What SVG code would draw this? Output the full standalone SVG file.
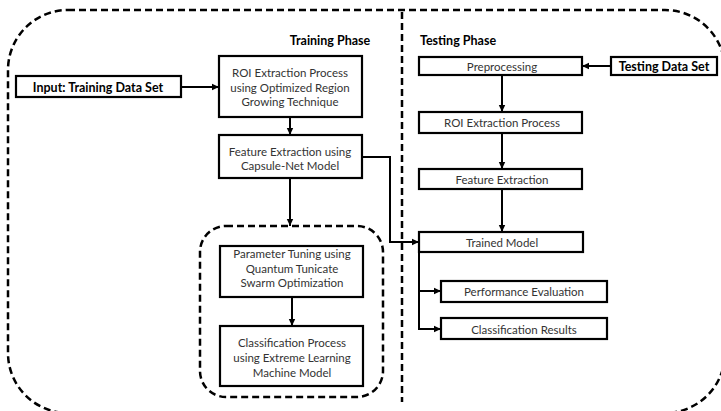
<svg xmlns="http://www.w3.org/2000/svg" width="721" height="411" viewBox="0 0 721 411">
<style>
.box{fill:#fff;stroke:#000;stroke-width:2.2}
.t{font-family:Lato,"Liberation Sans",sans-serif;font-size:11.5px;fill:#333;text-anchor:middle;dominant-baseline:central}
.b{font-family:Lato,"Liberation Sans",sans-serif;font-size:12.5px;font-weight:bold;fill:#000;text-anchor:middle;dominant-baseline:central}
.dash{fill:none;stroke:#000;stroke-width:2.5;stroke-dasharray:7 4}
.c{fill:none;stroke:#000;stroke-width:2}
</style>
<defs>
<marker id="ah" markerUnits="userSpaceOnUse" markerWidth="8" markerHeight="8" refX="7" refY="4" orient="auto">
<path d="M0,0.8 L7,4 L0,7.2 z" fill="#000"/>
</marker>
</defs>
<rect class="dash" x="8" y="10" width="717" height="403" rx="60"/>
<line class="dash" x1="402" y1="12" x2="402" y2="402"/>
<rect class="dash" x="200" y="226" width="183" height="171" rx="26"/>
<text class="b" x="330" y="40">Training Phase</text>
<text class="b" x="458" y="40">Testing Phase</text>
<g id="connectors">
<line class="c" x1="181" y1="87" x2="219" y2="87" marker-end="url(#ah)"/>
<line class="c" x1="290" y1="117" x2="290" y2="135" marker-end="url(#ah)"/>
<line class="c" x1="290" y1="178" x2="290" y2="226" marker-end="url(#ah)"/>
<polyline class="c" points="362,157 390,157 390,242 419,242" marker-end="url(#ah)"/>
<line class="c" x1="292" y1="297" x2="292" y2="326" marker-end="url(#ah)"/>
<line class="c" x1="611" y1="66" x2="582" y2="66" marker-end="url(#ah)"/>
<line class="c" x1="502" y1="75" x2="502" y2="112" marker-end="url(#ah)"/>
<line class="c" x1="502" y1="133" x2="502" y2="169" marker-end="url(#ah)"/>
<line class="c" x1="502" y1="189" x2="502" y2="232" marker-end="url(#ah)"/>
<polyline class="c" points="419,252 419,329 441,329" marker-end="url(#ah)"/>
<line class="c" x1="419" y1="291" x2="441" y2="291" marker-end="url(#ah)"/>
</g>
<g id="input-training">
<rect class="box" x="16" y="76" width="165" height="21"/>
<text class="b" x="98" y="87">Input: Training Data Set</text>
</g>
<g id="roi-training">
<rect class="box" x="219" y="56" width="143" height="61"/>
<text class="t" x="290" y="72">ROI Extraction Process</text>
<text class="t" x="290" y="87">using  Optimized Region</text>
<text class="t" x="290" y="101">Growing Technique</text>
</g>
<g id="feature-training">
<rect class="box" x="219" y="135" width="143" height="43"/>
<text class="t" x="290" y="151">Feature Extraction using</text>
<text class="t" x="290" y="165">Capsule-Net Model</text>
</g>
<g id="param-tuning">
<rect class="box" x="220" y="246" width="143" height="51"/>
<text class="t" x="292" y="253">Parameter Tuning using</text>
<text class="t" x="292" y="268">Quantum  Tunicate</text>
<text class="t" x="292" y="282">Swarm Optimization</text>
</g>
<g id="classification-process">
<rect class="box" x="220" y="326" width="143" height="60"/>
<text class="t" x="292" y="342">Classification Process</text>
<text class="t" x="292" y="357">using Extreme  Learning</text>
<text class="t" x="292" y="372">Machine Model</text>
</g>
<g id="preprocessing">
<rect class="box" x="419" y="57" width="163" height="18"/>
<text class="t" x="502" y="66">Preprocessing</text>
</g>
<g id="testing-data">
<rect class="box" x="611" y="57" width="106" height="18"/>
<text class="b" x="664" y="66">Testing  Data Set</text>
</g>
<g id="roi-testing">
<rect class="box" x="419" y="112" width="163" height="21"/>
<text class="t" x="502" y="122">ROI Extraction Process</text>
</g>
<g id="feature-testing">
<rect class="box" x="419" y="169" width="163" height="20"/>
<text class="t" x="502" y="179">Feature Extraction</text>
</g>
<g id="trained-model">
<rect class="box" x="419" y="232" width="164" height="20"/>
<text class="t" x="502" y="242">Trained Model</text>
</g>
<g id="performance">
<rect class="box" x="441" y="281" width="166" height="21"/>
<text class="t" x="524" y="291">Performance  Evaluation</text>
</g>
<g id="results">
<rect class="box" x="441" y="318" width="166" height="21"/>
<text class="t" x="524" y="329">Classification Results</text>
</g>
</svg>
